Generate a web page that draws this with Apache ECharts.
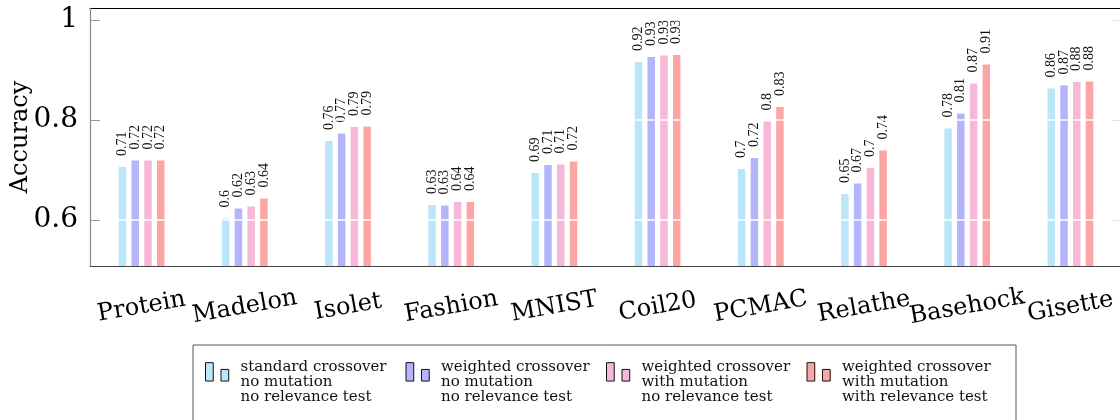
<!DOCTYPE html>
<html>
<head>
<meta charset="utf-8">
<script src="https://cdn.jsdelivr.net/npm/echarts@6/dist/echarts.min.js"></script>
<style>
  html, body { margin: 0; padding: 0; background: #fff; }
  #chart { width: 1120px; height: 420px; }
</style>
</head>
<body>
<div id="chart"></div>
<script>
var categories = ['Protein', 'Madelon', 'Isolet', 'Fashion', 'MNIST', 'Coil20', 'PCMAC', 'Relathe', 'Basehock', 'Gisette'];
var standardNoMut = [0.706, 0.603, 0.758, 0.630, 0.694, 0.916, 0.702, 0.652, 0.783, 0.863];
var weightedNoMut = [0.719, 0.623, 0.773, 0.629, 0.710, 0.926, 0.724, 0.673, 0.813, 0.869];
var weightedMut = [0.719, 0.627, 0.786, 0.636, 0.711, 0.929, 0.797, 0.704, 0.873, 0.876];
var weightedMutRel = [0.719, 0.643, 0.787, 0.636, 0.717, 0.930, 0.826, 0.739, 0.911, 0.877];
var yTicks = [0.6, 0.8, 1];
var seriesNames = [
  'standard crossover\nno mutation\nno relevance test',
  'weighted crossover\nno mutation\nno relevance test',
  'weighted crossover\nwith mutation\nno relevance test',
  'weighted crossover\nwith mutation\nwith relevance test'
];
var colors = ['#bbe5f8', '#b4b4fa', '#f6b8d6', '#fca5a5'];

function draw_accuracy() {
  var dom = document.getElementById('chart');
  var myChart = echarts.init(dom, null, { renderer: 'canvas' });

  var barLabel = {
    show: true,
    position: 'top',
    rotate: 90,
    align: 'left',
    verticalAlign: 'middle',
    distance: 11,
    fontFamily: 'Liberation Serif',
    fontSize: 14,
    color: '#111',
    formatter: function (p) { return String(Number(p.value.toFixed(2))); }
  };

  function makeSeries(name, data) {
    return {
      name: name,
      type: 'bar',
      barWidth: 7.5,
      barGap: '70%',
      data: data,
      label: barLabel
    };
  }

  var option = {
    color: colors,
    animation: false,
    grid: { left: 90, top: 8, width: 1032, height: 258, outerBoundsMode: 'none', containLabel: false },
    legend: {
      left: 193,
      top: 345,
      padding: [15, 14, 40, 12],
      borderColor: '#555',
      borderWidth: 1,
      itemGap: 5,
      itemWidth: 30,
      itemHeight: 40,
      icon: 'path://M0,0h8v19h-8zM16,7h8v12h-8zM31,41',
      itemStyle: { borderColor: '#111', borderWidth: 1 },
      textStyle: {
        fontFamily: 'DejaVu Serif',
        fontSize: 15,
        lineHeight: 15,
        width: 160,
        color: '#111'
      },
      data: seriesNames
    },
    xAxis: [
      {
        type: 'category',
        data: categories,
        position: 'bottom',
        axisLine: { lineStyle: { color: '#444', width: 1.2 } },
        axisTick: { inside: true, length: 10, alignWithLabel: true, lineStyle: { color: '#999' } },
        axisLabel: {
          interval: 0,
          rotate: 10,
          align: 'center',
          verticalAlign: 'middle',
          margin: 41,
          fontFamily: 'DejaVu Serif',
          fontSize: 24,
          color: '#000'
        }
      },
      {
        type: 'category',
        data: categories,
        position: 'top',
        axisLine: { lineStyle: { color: '#000', width: 1.2 } },
        axisTick: { inside: true, length: 10, alignWithLabel: true, lineStyle: { color: '#999' } },
        axisLabel: { show: false }
      }
    ],
    yAxis: [
      {
        type: 'value',
        min: 0.508,
        max: 1.024,
        z: 3,
        name: 'Accuracy',
        nameLocation: 'middle',
        nameGap: 57,
        nameMoveOverlap: false,
        nameTextStyle: { fontFamily: 'DejaVu Serif', fontSize: 24, color: '#000' },
        axisLine: { show: true, lineStyle: { color: '#888', width: 1.2 } },
        axisTick: { show: true, inside: true, length: 10, customValues: yTicks, lineStyle: { color: '#999' } },
        axisLabel: {
          customValues: yTicks,
          margin: 12,
          fontFamily: 'DejaVu Serif',
          fontSize: 28,
          color: '#000'
        },
        splitLine: { show: true, lineStyle: { color: '#fff', width: 1.5 } }
      },
      {
        type: 'value',
        min: 0.508,
        max: 1.024,
        position: 'right',
        axisLine: { show: true, lineStyle: { color: '#000' } },
        axisTick: { show: true, inside: true, length: 10, customValues: yTicks, lineStyle: { color: '#999' } },
        axisLabel: { show: false },
        splitLine: { show: false }
      }
    ],
    series: [
      makeSeries(seriesNames[0], standardNoMut),
      makeSeries(seriesNames[1], weightedNoMut),
      makeSeries(seriesNames[2], weightedMut),
      makeSeries(seriesNames[3], weightedMutRel)
    ]
  };

  myChart.setOption(option);
  window.addEventListener('resize', myChart.resize);
}

draw_accuracy();
</script>
</body>
</html>
